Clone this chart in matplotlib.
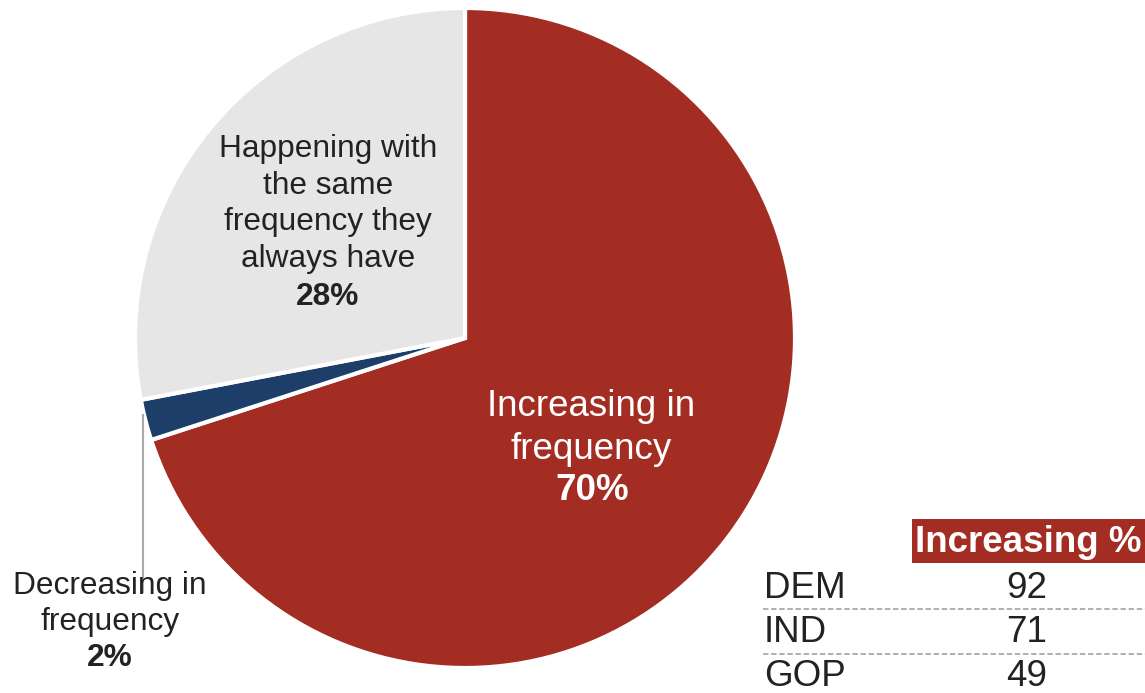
import matplotlib.pyplot as plt
from matplotlib.lines import Line2D
from matplotlib.patches import Rectangle

plt.rcParams['font.family'] = ['Liberation Sans', 'DejaVu Sans']

# pie data, clockwise from the top
slice_names = ["Increasing in\nfrequency", "Decreasing in\nfrequency",
               "Happening with\nthe same\nfrequency they\nalways have"]
slice_values = [70, 2, 28]
slice_colors = ["#A32D23", "#1D3E69", "#E6E6E6"]

# party table
parties = ["DEM", "IND", "GOP"]
increasing_pct = [92, 71, 49]

W, H = 1145, 693


def fx(px):
    return px / W


def fy(py):
    return 1 - py / H


fig = plt.figure(figsize=(W / 100, H / 100), dpi=100)
ax = fig.add_axes([fx(135), fy(668), 660 / W, 660 / H])
ax.pie(slice_values, colors=slice_colors, startangle=90, counterclock=False,
       wedgeprops=dict(edgecolor="white", linewidth=3))
ax.set_xlim(-1, 1)
ax.set_ylim(-1, 1)
ax.set_aspect("equal")
ax.axis("off")

# slice labels
fig.text(fx(591), fy(428), slice_names[0], color="white", fontsize=26.5,
         ha="center", va="center", linespacing=1.3)
fig.text(fx(592), fy(490), f"{slice_values[0]}%", color="white", fontsize=26.5,
         ha="center", va="center", fontweight="bold")

fig.text(fx(328), fy(204), slice_names[2], color="#222222", fontsize=22.8,
         ha="center", va="center", linespacing=1.28)
fig.text(fx(328), fy(297), f"{slice_values[2]}%", color="#222222", fontsize=22.8,
         ha="center", va="center", fontweight="bold")

fig.text(fx(110), fy(604), slice_names[1], color="#222222", fontsize=22.8,
         ha="center", va="center", linespacing=1.3)
fig.text(fx(110), fy(658), f"{slice_values[1]}%", color="#222222", fontsize=22.8,
         ha="center", va="center", fontweight="bold")
fig.add_artist(Line2D([fx(143), fx(143)], [fy(415), fy(592)],
                      color="#AAAAAA", linewidth=1.5))

# table
fig.add_artist(Rectangle((fx(912), fy(563)), (W - 912) / W, 44 / H,
                         facecolor="#A32D23", edgecolor="none"))
fig.text(fx(915), fy(543), "Increasing %", color="white", fontsize=26.5,
         fontweight="bold", ha="left", va="center")
row_y = [588, 633, 677]
for i, (p, v) in enumerate(zip(parties, increasing_pct)):
    fig.text(fx(764), fy(row_y[i]), p, color="#222222", fontsize=26.5,
             ha="left", va="center")
    fig.text(fx(1027), fy(row_y[i]), str(v), color="#222222", fontsize=26.5,
             ha="center", va="center")
    if i < len(parties) - 1:
        ly = fy(row_y[i] + 21)
        fig.add_artist(Line2D([fx(763), 1], [ly, ly], color="#AAAAAA",
                              linewidth=1.3, linestyle=(0, (3, 1.5))))

fig.savefig("out.png", dpi=100)
